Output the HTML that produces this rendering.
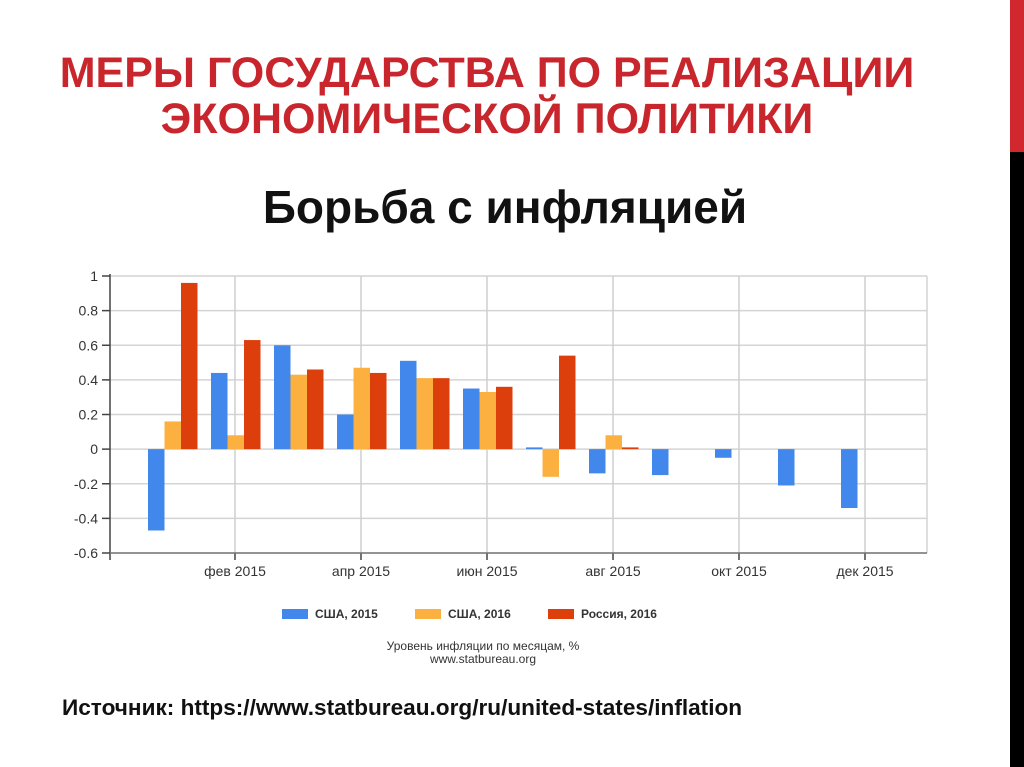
<!DOCTYPE html>
<html><head><meta charset="utf-8"><style>
html,body{margin:0;padding:0;background:#fff;}
body{width:1024px;height:767px;position:relative;overflow:hidden;font-family:"Liberation Sans",sans-serif;}
.t{position:absolute;left:0;width:1010px;text-align:center;}
</style></head><body>
<div class="t" style="top:50px;font-size:43px;font-weight:bold;color:#c8262c;line-height:46px;left:-18px;">МЕРЫ ГОСУДАРСТВА ПО РЕАЛИЗАЦИИ<br>ЭКОНОМИЧЕСКОЙ ПОЛИТИКИ</div>
<div class="t" style="top:180px;font-size:46px;font-weight:bold;color:#111;left:0px;">Борьба с инфляцией</div>
<div style="position:absolute;left:1010px;top:0;width:14px;height:152px;background:#d0282e;"></div>
<div style="position:absolute;left:1010px;top:152px;width:14px;height:615px;background:#000;"></div>
<div style="position:absolute;left:62px;top:695px;font-size:22.6px;font-weight:bold;color:#111;">Источник: https://www.statbureau.org/ru/united-states/inflation</div>
<svg id="chart" width="1024" height="767" style="position:absolute;left:0;top:0;" xmlns="http://www.w3.org/2000/svg"></svg>
<script>
const months=["янв 2015","фев 2015","мар 2015","апр 2015","май 2015","июн 2015","июл 2015","авг 2015","сен 2015","окт 2015","ноя 2015","дек 2015"];
const usa2015=[-0.47,0.44,0.60,0.20,0.51,0.35,0.01,-0.14,-0.15,-0.05,-0.21,-0.34];
const usa2016=[0.16,0.08,0.43,0.47,0.41,0.33,-0.16,0.08,null,null,null,null];
const russia2016=[0.96,0.63,0.46,0.44,0.41,0.36,0.54,0.01,null,null,null,null];
const yTicks=[1,0.8,0.6,0.4,0.2,0,-0.2,-0.4,-0.6];
const seriesNames=["США, 2015","США, 2016","Россия, 2016"];
const colors=["#4287ec","#fbb040","#dc3f0c"];
const svg=document.getElementById('chart');
const NS="http://www.w3.org/2000/svg";
const L=110,R=927,T=276,B=553,yMin=-0.6,yMax=1;
const y=v=>T+(yMax-v)/(yMax-yMin)*(B-T);
const x=i=>173+63*i;
function mk(tag,a){const e=document.createElementNS(NS,tag);for(const k in a)e.setAttribute(k,a[k]);svg.appendChild(e);return e;}
yTicks.forEach(v=>{
  const g=mk('line',{x1:L,x2:R,y1:y(v),y2:y(v),stroke:'#d4d4d4','stroke-width':1.5});
  
  
  const tk=mk('line',{x1:L-8,x2:L,y1:y(v),y2:y(v),stroke:'#444','stroke-width':1.5});
  
  
  const t=mk('text',{x:L-12,y:y(v)+5,'text-anchor':'end','font-size':14,fill:'#333','font-family':'Liberation Sans, sans-serif'});
  t.textContent=String(v);
  
  
});
months.forEach((m,i)=>{
  if(i%2===1){
    const g=mk('line',{x1:x(i)-1,x2:x(i)-1,y1:T,y2:B,stroke:'#cfcfcf','stroke-width':1.5});
    
    
    const tk=mk('line',{x1:x(i)-1,x2:x(i)-1,y1:B,y2:B+7,stroke:'#444','stroke-width':1.5});
    
    
    const t=mk('text',{x:x(i)-1,y:B+23,'text-anchor':'middle','font-size':14,fill:'#333','font-family':'Liberation Sans, sans-serif'});
    t.textContent=m;
    
    
  }
});
const rb=mk('line',{x1:R,x2:R,y1:T,y2:B,stroke:'#d4d4d4','stroke-width':1.5});


const ax=mk('line',{x1:L,x2:L,y1:T-2,y2:B+7,stroke:'#444','stroke-width':1.5});


const bx=mk('line',{x1:L,x2:R,y1:B,y2:B,stroke:'#777','stroke-width':1.5});


const bw=16.5;
[usa2015,usa2016,russia2016].forEach((s,si)=>{
  s.forEach((v,i)=>{
    if(v===null)return;
    const y0=y(0),yv=y(v);
    const r=mk('rect',{x:x(i)-25+si*bw,y:Math.min(y0,yv),width:bw,height:Math.max(1.5,Math.abs(yv-y0)),fill:colors[si]});
    
    
  });
});
const lx=[282,415,548];
seriesNames.forEach((n,i)=>{
  const r=mk('rect',{x:lx[i],y:609,width:26,height:10,fill:colors[i]});
  
  
  const t=mk('text',{x:lx[i]+33,y:618,'font-size':12,'font-weight':'bold',fill:'#333','font-family':'Liberation Sans, sans-serif'});
  t.textContent=n;
  
  
});
const c1=mk('text',{x:483,y:650,'text-anchor':'middle','font-size':12,fill:'#333','font-family':'Liberation Sans, sans-serif'});
c1.textContent="Уровень инфляции по месяцам, %";


const c2=mk('text',{x:483,y:663,'text-anchor':'middle','font-size':12,fill:'#333','font-family':'Liberation Sans, sans-serif'});
c2.textContent="www.statbureau.org";


</script>
</body></html>
